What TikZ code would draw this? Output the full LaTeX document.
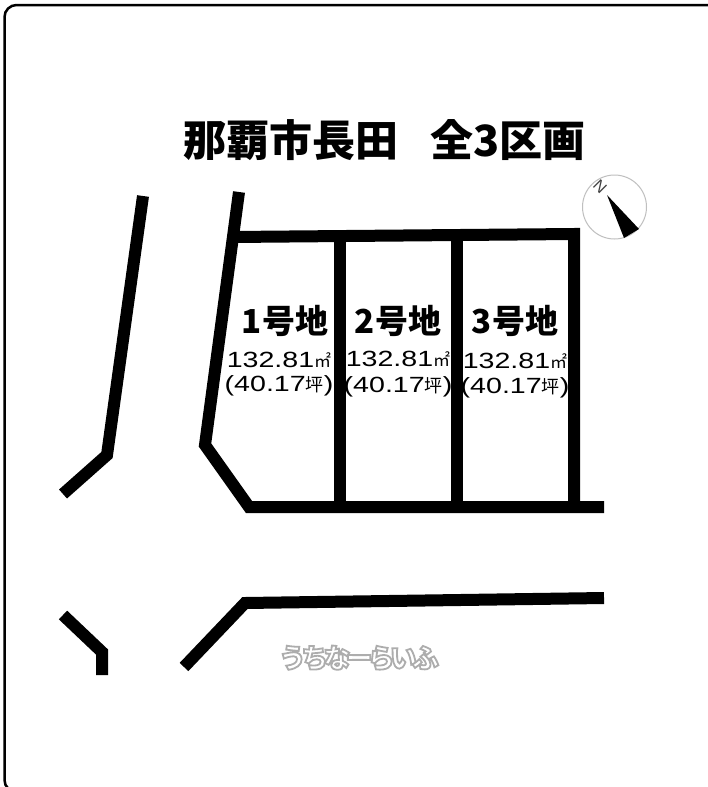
\documentclass[tikz,border=0pt]{standalone}
\usepackage{fontspec}
\setmainfont{Liberation Sans}
\newfontfamily\jpb{Noto Sans CJK JP Black}
\newfontfamily\jpm{Noto Sans CJK JP}
\newfontfamily\wmfont[LetterSpace=-18]{Noto Sans CJK JP Black}
\newfontfamily\widesans[FakeStretch=1.3]{Liberation Sans}
\begin{document}
\begin{tikzpicture}[x=1pt,y=-1pt,
  road/.style={line width=12pt,line join=miter,miter limit=10,black},
  lotname/.style={font=\jpb\fontsize{33}{33}\selectfont,inner sep=0pt},
  areatext/.style={font=\widesans\fontsize{22}{22}\selectfont,inner sep=0pt},
  titletext/.style={font=\jpb\fontsize{43}{43}\selectfont,inner sep=0pt},
  wm/.style={font=\wmfont\fontsize{27}{27}\selectfont,inner sep=0pt}]
\useasboundingbox (0,0) rectangle (707,787);
\fill[white] (0,0) rectangle (707,787);
\draw[line width=2.5pt,rounded corners=12pt] (25,792) -- (4.5,792) -- (4.5,5) -- (715,5);
% title
\node[titletext] (title) at (384.5,140) {那覇市長田\hspace{0.75em}全3区画};
% lot outline
\coordinate (tl) at (232,237);
\coordinate (tr) at (574,234);
\coordinate (br) at (574,507);
\coordinate (bl) at (249,507);
\coordinate (ch) at (205,445);
\coordinate (rs) at (239,192);
\coordinate (re) at (604,507);
\draw[road] (rs) -- (ch) -- (bl) -- (re);
\draw[road] (tl) -- (tr) -- (br);
\draw[road] (340,236) -- (340,507);
\draw[road] (457,235) -- (457,507);
% other roads
\draw[road] (143,196) -- (107,455) -- (63,494);
\draw[road] (63,615) -- (102,652) -- (102,675);
\draw[road] (184,667) -- (245,603) -- (604,598);
% lot labels
\node[lotname] (l1) at (285,321) {1号地};
\node[lotname] (l2) at (398,321) {2号地};
\node[lotname] (l3) at (515,321) {3号地};
\node[areatext] (a1) at (279,360) {132.81{\jpm\fontsize{17}{17}\selectfont ㎡}};
\node[areatext] (a2) at (398,359) {132.81{\jpm\fontsize{17}{17}\selectfont ㎡}};
\node[areatext] (a3) at (515,361) {132.81{\jpm\fontsize{17}{17}\selectfont ㎡}};
\node[areatext] (b1) at (279,386) {(40.17{\jpm\fontsize{18}{18}\selectfont 坪})};
\node[areatext] (b2) at (398,387) {(40.17{\jpm\fontsize{18}{18}\selectfont 坪})};
\node[areatext] (b3) at (515,388) {(40.17{\jpm\fontsize{18}{18}\selectfont 坪})};
% compass
\node[draw=black!25,line width=1pt,circle,minimum size=64pt,inner sep=0pt] (comp) at (614.5,207) {};
\fill[black] (607,195) -- (639,229) -- (624,238) -- cycle;
\node[font=\fontsize{16}{16}\selectfont,rotate=-45,inner sep=0pt,text=black!75] (north) at (600,187) {N};
% watermark
\node[wm] (mark) at (359,658) {\special{pdf:code q 2 Tr 0.68 G 1 g 1.8 w}うちなーらいふ\special{pdf:code 0 Tr Q}};
\end{tikzpicture}
\end{document}
